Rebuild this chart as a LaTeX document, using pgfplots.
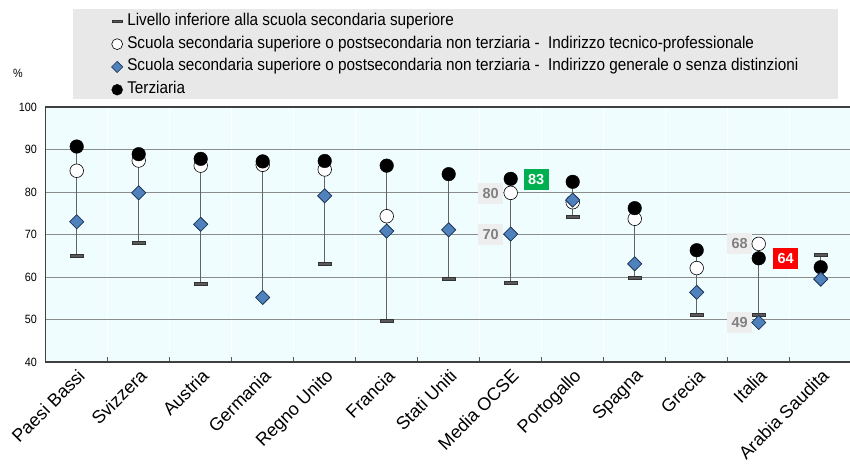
\documentclass[border=0pt]{standalone}
\usepackage{fontspec}
\setmainfont{Liberation Sans}
\newfontfamily\narrow{Liberation Sans}[FakeStretch=0.9]
\usepackage{pgfplots}
\usepackage{pgfplotstable}
\pgfplotsset{compat=1.18}

\definecolor{bgc}{RGB}{240,253,255}
\definecolor{legbg}{RGB}{232,232,232}
\definecolor{dashc}{RGB}{90,90,90}
\definecolor{diamc}{RGB}{79,129,189}
\definecolor{diamedge}{RGB}{30,50,80}
\definecolor{linec}{RGB}{100,100,100}
\definecolor{lblbg}{RGB}{238,238,238}
\definecolor{lbltx}{RGB}{128,128,128}
\definecolor{okgreen}{RGB}{0,176,80}
\definecolor{badred}{RGB}{255,0,0}

\pgfdeclareplotmark{ldash}{%
  \pgfpathrectangle{\pgfqpoint{-6.25pt}{-1.6pt}}{\pgfqpoint{12.5pt}{3.2pt}}%
  \pgfusepathqfillstroke}

\pgfplotstableread{
x lo voc gen ter
0 65.0 85.0 73.0 90.7
1 68.1 87.4 79.8 88.9
2 58.5 86.2 72.4 87.8
3 nan 86.4 55.2 87.2
4 63.1 85.3 79.1 87.3
5 49.7 74.3 70.8 86.2
6 59.6 nan 71.1 84.2
7 58.7 79.8 70.1 83.1
8 74.2 77.6 78.1 82.4
9 59.8 73.7 63.1 76.2
10 51.1 62.1 56.4 66.3
11 51.2 67.8 49.3 64.4
12 65.3 nan 59.5 62.3
}\data

\begin{document}
\begin{tikzpicture}[x=1pt,y=1pt]
\path[use as bounding box] (0,0) rectangle (850,463);
\fill[legbg] (72.7,364) rectangle (837.7,454);
\node[font=\narrow\fontsize{12}{13}\selectfont, anchor=center] at (18,390) {\%};
\begin{axis}[
  at={(45.7pt,101pt)}, anchor=south west,
  scale only axis, width=806pt, height=255pt,
  xmin=-0.5, xmax=12.5, ymin=40, ymax=100,
  clip=false,
  axis background/.style={fill=bgc},
  axis line style={draw=black!75, line width=1.4pt},
  xtick={0,...,12},
  xticklabels={Paesi Bassi,Svizzera,Austria,Germania,Regno Unito,Francia,Stati Uniti,Media OCSE,Portogallo,Spagna,Grecia,Italia,Arabia Saudita},
  minor xtick={0.5,1.5,...,11.5},
  xtick pos=bottom, ytick pos=left,
  major tick length=0pt,
  minor tick length=5pt,
  minor x tick style={draw=black!65, line width=0.8pt},
  xminorgrids=true,
  minor x grid style={white, line width=1pt},
  ytick={40,50,...,100},
  ymajorgrids=true,
  major y grid style={black!45, line width=0.9pt},
  /pgf/number format/assume math mode=true,
  y tick label style={font=\narrow\fontsize{12}{13}\selectfont, anchor=east, inner sep=0pt, xshift=-8.5pt},
  x tick label style={font=\fontsize{18}{20}\selectfont, rotate=45, anchor=north east, inner sep=0pt, xshift=-4pt, yshift=-4pt},
  legend style={at={(axis description cs:0.0815,1.372)}, anchor=north west,
    draw=none, fill=none, font=\narrow\fontsize{17}{19}\selectfont,
    row sep=4.8pt, inner sep=0pt,
    nodes={inner sep=1.5pt, text height=11.5pt, text depth=3.5pt}},
  legend cell align=left,
  legend image code/.code={\draw[#1,/tikz/every mark/.append style={scale=0.8}] plot coordinates {(0pt,0pt)};},
  /tikz/every odd column/.append style={column sep=3pt},
]
% vertical range lines
\addplot[linec, line width=1.1pt, unbounded coords=jump, forget plot] coordinates {
(0,65.0) (0,90.7) (0,nan)
(1,68.1) (1,88.9) (1,nan)
(2,58.5) (2,87.8) (2,nan)
(3,55.2) (3,87.2) (3,nan)
(4,63.1) (4,87.3) (4,nan)
(5,49.7) (5,86.2) (5,nan)
(6,59.6) (6,84.2) (6,nan)
(7,58.7) (7,83.1) (7,nan)
(8,74.2) (8,82.4) (8,nan)
(9,59.8) (9,76.2) (9,nan)
(10,51.1) (10,66.3) (10,nan)
(11,49.3) (11,67.8) (11,nan)
(12,59.5) (12,65.3)
};
\addplot[only marks, mark=ldash, mark options={fill=dashc, draw=black!80, line width=0.4pt}] table[x=x,y=lo]{\data};
\addlegendentry{Livello inferiore alla scuola secondaria superiore}
\addplot[only marks, mark=*, mark size=6.8pt, mark options={fill=white, draw=black, line width=0.6pt}] table[x=x,y=voc]{\data};
\addlegendentry{Scuola secondaria superiore o postsecondaria non terziaria -~~Indirizzo tecnico-professionale}
\addplot[only marks, mark=square*, mark size=4.95pt, mark options={rotate=45, fill=diamc, draw=diamedge, line width=0.6pt}] table[x=x,y=gen]{\data};
\addlegendentry{Scuola secondaria superiore o postsecondaria non terziaria -~~Indirizzo generale o senza distinzioni}
\addplot[only marks, mark=*, mark size=6.8pt, mark options={fill=black, draw=black}] table[x=x,y=ter]{\data};
\addlegendentry{Terziaria}
\addplot[only marks, mark=square*, mark size=4.95pt, mark options={rotate=45, fill=diamc, draw=diamedge, line width=0.6pt}, forget plot] table[x=x,y=gen]{\data};
% value labels
\tikzset{glab/.style={fill=lblbg, text=lbltx, font=\bfseries\fontsize{14.5}{15}\selectfont, minimum width=25pt, minimum height=21pt, inner sep=0pt}}
\node[glab, xshift=-20pt] at (axis cs:7,79.7) {80};
\node[glab, xshift=-20pt] at (axis cs:7,70.0) {70};
\node[glab, fill=okgreen, text=white, xshift=25.5pt] at (axis cs:7,82.9) {83};
\node[glab, xshift=-19pt] at (axis cs:11,67.9) {68};
\node[glab, xshift=-19pt] at (axis cs:11,49.3) {49};
\node[glab, fill=badred, text=white, xshift=27pt] at (axis cs:11,64.4) {64};
\end{axis}
\end{tikzpicture}
\end{document}
